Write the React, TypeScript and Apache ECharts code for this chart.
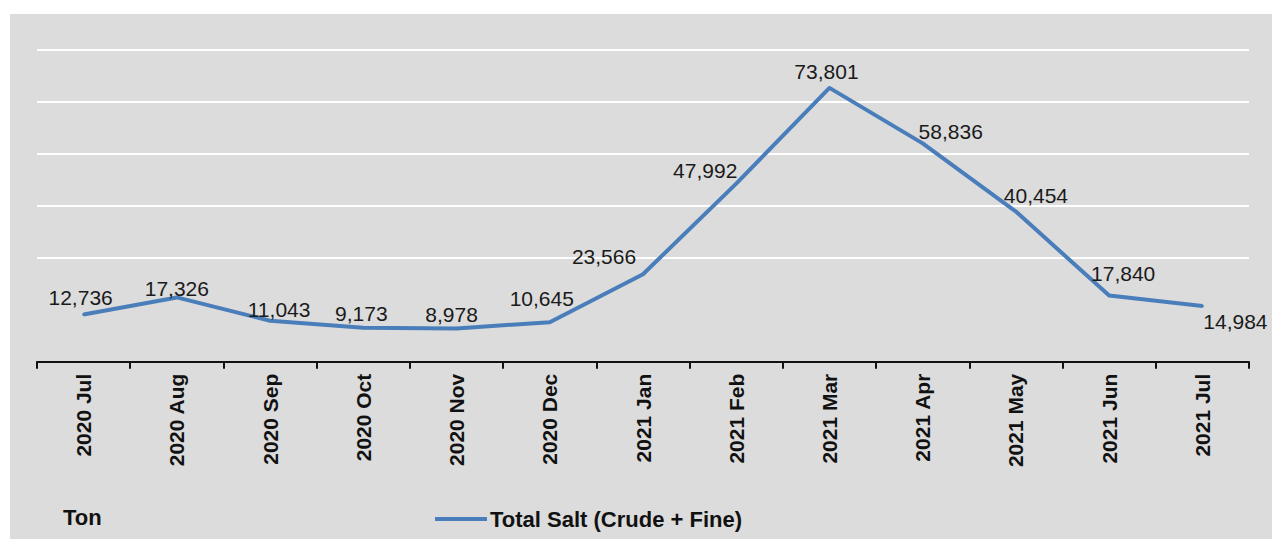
import React, { useEffect, useRef } from "react";
import * as echarts from "echarts";

const categories = [
  "2020 Jul", "2020 Aug", "2020 Sep", "2020 Oct", "2020 Nov", "2020 Dec",
  "2021 Jan", "2021 Feb", "2021 Mar", "2021 Apr", "2021 May", "2021 Jun", "2021 Jul",
];
const totalSalt = [12736, 17326, 11043, 9173, 8978, 10645, 23566, 47992, 73801, 58836, 40454, 17840, 14984];
const labelOffsets: [number, number][] = [
  [-3, -17], [0, -9], [9, -11], [-2, -14], [-5, -14], [-8, -24], [-39, -18],
  [-31, -13], [-3, -16], [28, -12], [20, -16], [14, -22], [33, 15],
];
const seriesName = "Total Salt (Crude + Fine)";
const unitLabel = "Ton";

export default function App() {
  const ref = useRef<HTMLDivElement>(null);
  useEffect(() => {
    document.body.style.margin = "0";
    const chart = echarts.init(ref.current!, null, { renderer: "svg" });
    const font = "Arial, 'Liberation Sans', sans-serif";
    chart.setOption({
      animation: false,
      backgroundColor: "#ffffff",
      graphic: [
        {
          type: "rect",
          z: -10,
          shape: { x: 10, y: 14, width: 1262, height: 525 },
          style: { fill: "#dcdcdc" },
          silent: true,
        },
        {
          type: "text",
          x: 63,
          y: 517,
          style: {
            text: unitLabel,
            fontFamily: font,
            fontWeight: "bold",
            fontSize: 22,
            fill: "#111",
            verticalAlign: "middle",
          },
        },
      ],
      legend: {
        left: 430,
        top: 503,
        icon: "rect",
        itemWidth: 52,
        itemHeight: 4,
        itemGap: 10,
        textStyle: { fontFamily: font, fontWeight: "bold", fontSize: 22, color: "#111", padding: [0, 0, 0, -2] },
        data: [seriesName],
      },
      grid: { left: 37, right: 23, top: 50, bottom: 177.3, containLabel: false },
      xAxis: {
        type: "category",
        data: categories,
        boundaryGap: true,
        axisLine: { lineStyle: { color: "#111", width: 2 } },
        axisTick: { show: true, length: 7, lineStyle: { color: "#111", width: 2 } },
        axisLabel: {
          rotate: 90,
          margin: 12,
          fontFamily: font,
          fontWeight: "bold",
          fontSize: 21,
          color: "#111",
          interval: 0,
        },
        splitLine: { show: false },
      },
      yAxis: {
        type: "value",
        min: 0,
        max: 84000,
        interval: 14000,
        axisLabel: { show: false },
        axisLine: { show: false },
        axisTick: { show: false },
        splitLine: {
          show: true,
          lineStyle: {
            color: ["#ffffff", "rgba(0,0,0,0)", "#ffffff", "#ffffff", "#ffffff", "#ffffff", "#ffffff"],
            width: 2,
          },
        },
      },
      series: [
        {
          name: seriesName,
          type: "line",
          data: totalSalt.map((v, i) => ({
            value: v,
            label: { offset: labelOffsets[i] },
          })),
          symbol: "circle",
          symbolSize: 3,
          showSymbol: true,
          color: "#4a7ebb",
          itemStyle: { color: "#4a7ebb" },
          lineStyle: { color: "#4a7ebb", width: 4 },
          label: {
            show: true,
            position: "inside",
            align: "center",
            verticalAlign: "middle",
            fontFamily: font,
            fontSize: 21,
            color: "#1a1a1a",
            formatter: (p: any) => Number(p.value).toLocaleString("en-US"),
          },
        },
      ],
    });
    return () => chart.dispose();
  }, []);
  return <div ref={ref} style={{ width: 1272, height: 539 }} />;
}
